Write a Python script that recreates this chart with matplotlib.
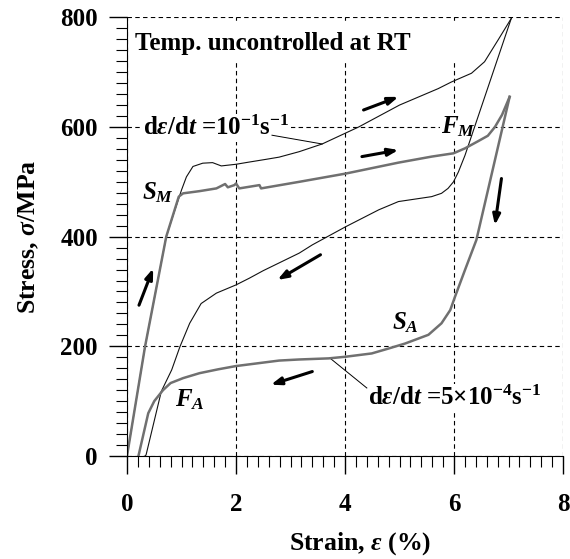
# Stress-strain loops of an SMA wire at two strain rates
import numpy as np
import matplotlib.pyplot as plt

plt.rcParams['font.family'] = ['Liberation Serif', 'DejaVu Serif']
plt.rcParams['font.weight'] = 'bold'
plt.rcParams['mathtext.fontset'] = 'custom'
plt.rcParams['mathtext.rm'] = 'Liberation Serif:bold'
plt.rcParams['mathtext.it'] = 'Liberation Serif:italic:bold'
plt.rcParams['mathtext.bf'] = 'Liberation Serif:bold'

# fast rate (10^-1 /s), black curve
fast_load_x = [0, 0.33, 0.72, 0.85, 1.0, 1.09, 1.21, 1.39, 1.57, 1.73, 2.0, 2.24, 2.55, 2.79, 3.16, 3.58,
               4.25, 5.0, 5.71, 5.95, 6.32, 6.56, 6.81, 7.05]
fast_load_y = [0, 199, 400, 440, 485, 509, 528, 534, 535, 529, 532, 536, 541, 545, 555, 569,
               600, 640, 670, 682, 698, 719, 759, 798]
fast_unload_x = [7.05, 6.20, 6.08, 5.99, 5.89, 5.77, 5.59, 4.98, 4.62, 4.01, 3.40, 3.16, 2.5, 2.24,
                 2.0, 1.64, 1.36, 1.15, 0.97, 0.82, 0.63, 0.35, 0.33]
fast_unload_y = [798, 548, 518, 500, 488, 479, 473, 464, 449, 418, 385, 370, 338, 324,
                 312, 297, 278, 242, 199, 157, 118, 2, 0]

# slow rate (5x10^-4 /s), gray curve
slow_load_x = [0, 0.33, 0.72, 0.95, 1.03, 1.33, 1.64, 1.8, 1.85, 1.97, 2.0, 2.06, 2.43, 2.46, 3.16, 4.01,
               4.98, 5.59, 5.99, 6.20, 6.44, 6.62, 6.75, 6.88, 7.02]
slow_load_y = [0, 199, 400, 473, 479, 483, 488, 496, 490, 494, 497, 488, 494, 488, 500, 515,
               535, 546, 552, 561, 574, 584, 600, 622, 655]
slow_unload_x = [7.02, 6.41, 6.20, 6.02, 5.93, 5.77, 5.53, 5.10, 4.80, 4.49, 4.01, 3.70, 3.16, 2.79, 2.0,
                 1.67, 1.33, 1.03, 0.8, 0.66, 0.5, 0.39, 0.21]
slow_unload_y = [655, 394, 339, 291, 266, 242, 221, 205, 196, 187, 181, 178, 176, 174, 164,
                 158, 151, 142, 133, 120, 100, 78, 0]

# loading direction arrows: (tail, head)
arrows = [((0.22, 275), (0.48, 342)),
          ((4.34, 631), (4.98, 655)),
          ((4.31, 546), (4.98, 558)),
          ((6.87, 506), (6.75, 421)),
          ((3.55, 367), (2.76, 321)),
          ((3.40, 154), (2.64, 130))]

fig = plt.figure(figsize=(5.7, 5.59), dpi=100)
ax = fig.add_axes([0.2228, 0.1843, 0.765, 0.7847])

ax.plot(fast_load_x, fast_load_y, color='#111111', lw=0.8, zorder=2)
ax.plot(fast_unload_x, fast_unload_y, color='#111111', lw=0.8, zorder=2)
ax.plot(slow_load_x, slow_load_y, color='#707070', lw=1.8, zorder=2.5)
ax.plot(slow_unload_x, slow_unload_y, color='#707070', lw=1.8, zorder=2.5)

for tail, head in arrows:
    ax.annotate('', xy=head, xytext=tail,
                arrowprops=dict(arrowstyle='-|>,head_length=0.6,head_width=0.22',
                                lw=2.2, color='black', shrinkA=0, shrinkB=0),
                zorder=4)

ax.set_xlim(0, 8)
ax.set_ylim(0, 800)
ax.set_xticks([0, 2, 4, 6, 8])
ax.set_yticks([0, 200, 400, 600, 800])
ax.set_xticks(np.arange(0, 8.01, 0.2), minor=True)
ax.set_yticks(np.arange(0, 801, 20), minor=True)
ax.tick_params(which='major', length=13, width=1, labelsize=18, direction='out')
ax.tick_params(axis='x', which='major', pad=14)
ax.tick_params(axis='y', which='major', pad=8)
ax.tick_params(which='minor', length=8, width=0.8, direction='out')
for lab in ax.get_xticklabels() + ax.get_yticklabels():
    lab.set_fontweight('bold')

ax.spines['top'].set_visible(False)
ax.spines['right'].set_visible(False)
ax.set_axisbelow(True)
ax.grid(True, which='major', color='black', lw=0.8, linestyle=(0, (4, 3)))

# white area hiding grid under the title text
ax.axhspan(722, 794, xmin=0.01, xmax=0.78, color='white', zorder=1)

# text boxes sit above the grid but below the curves
box = dict(facecolor='white', edgecolor='none', pad=1)
ax.text(0.15, 753, 'Temp. uncontrolled at RT', fontsize=18, fontweight='bold',
        va='center', ha='left', bbox=box, zorder=1.5)
ax.text(0.29, 598, r'd$\mathit{\varepsilon}$/d$\mathit{t}$ =10$^{-1}$s$^{-1}$', fontsize=18,
        fontweight='bold', va='center', ha='left', bbox=box, zorder=1.5)
ax.plot([2.66, 3.58], [585, 569], color='black', lw=0.7, zorder=2)
ax.text(4.43, 106, r'd$\mathit{\varepsilon}$/d$\mathit{t}$ =5×10$^{-4}$s$^{-1}$', fontsize=18,
        fontweight='bold', va='center', ha='left', bbox=box, zorder=1.5)
ax.plot([4.40, 3.73], [124, 178], color='black', lw=0.7, zorder=2)

ax.text(0.27, 480, r'$\mathit{S}_{\mathit{M}}$', fontsize=18, va='center', ha='left')
ax.text(0.88, 102, r'$\mathit{F}_{\mathit{A}}$', fontsize=18, va='center', ha='left')
ax.text(5.77, 600, r'$\mathit{F}_{\mathit{M}}$', fontsize=18, va='center', ha='left',
        bbox=box, zorder=1.5)
ax.text(4.86, 243, r'$\mathit{S}_{\mathit{A}}$', fontsize=18, va='center', ha='left')

ax.set_xlabel(r'Strain, $\mathit{\varepsilon}$ (%)', fontsize=18.5, fontweight='bold')
ax.set_ylabel(r'Stress, $\mathit{\sigma}$/MPa', fontsize=18.5, fontweight='bold')
ax.xaxis.set_label_coords(0.535, -0.168)
ax.yaxis.set_label_coords(-0.198, 0.5)

fig.savefig('out.png', dpi=100)
